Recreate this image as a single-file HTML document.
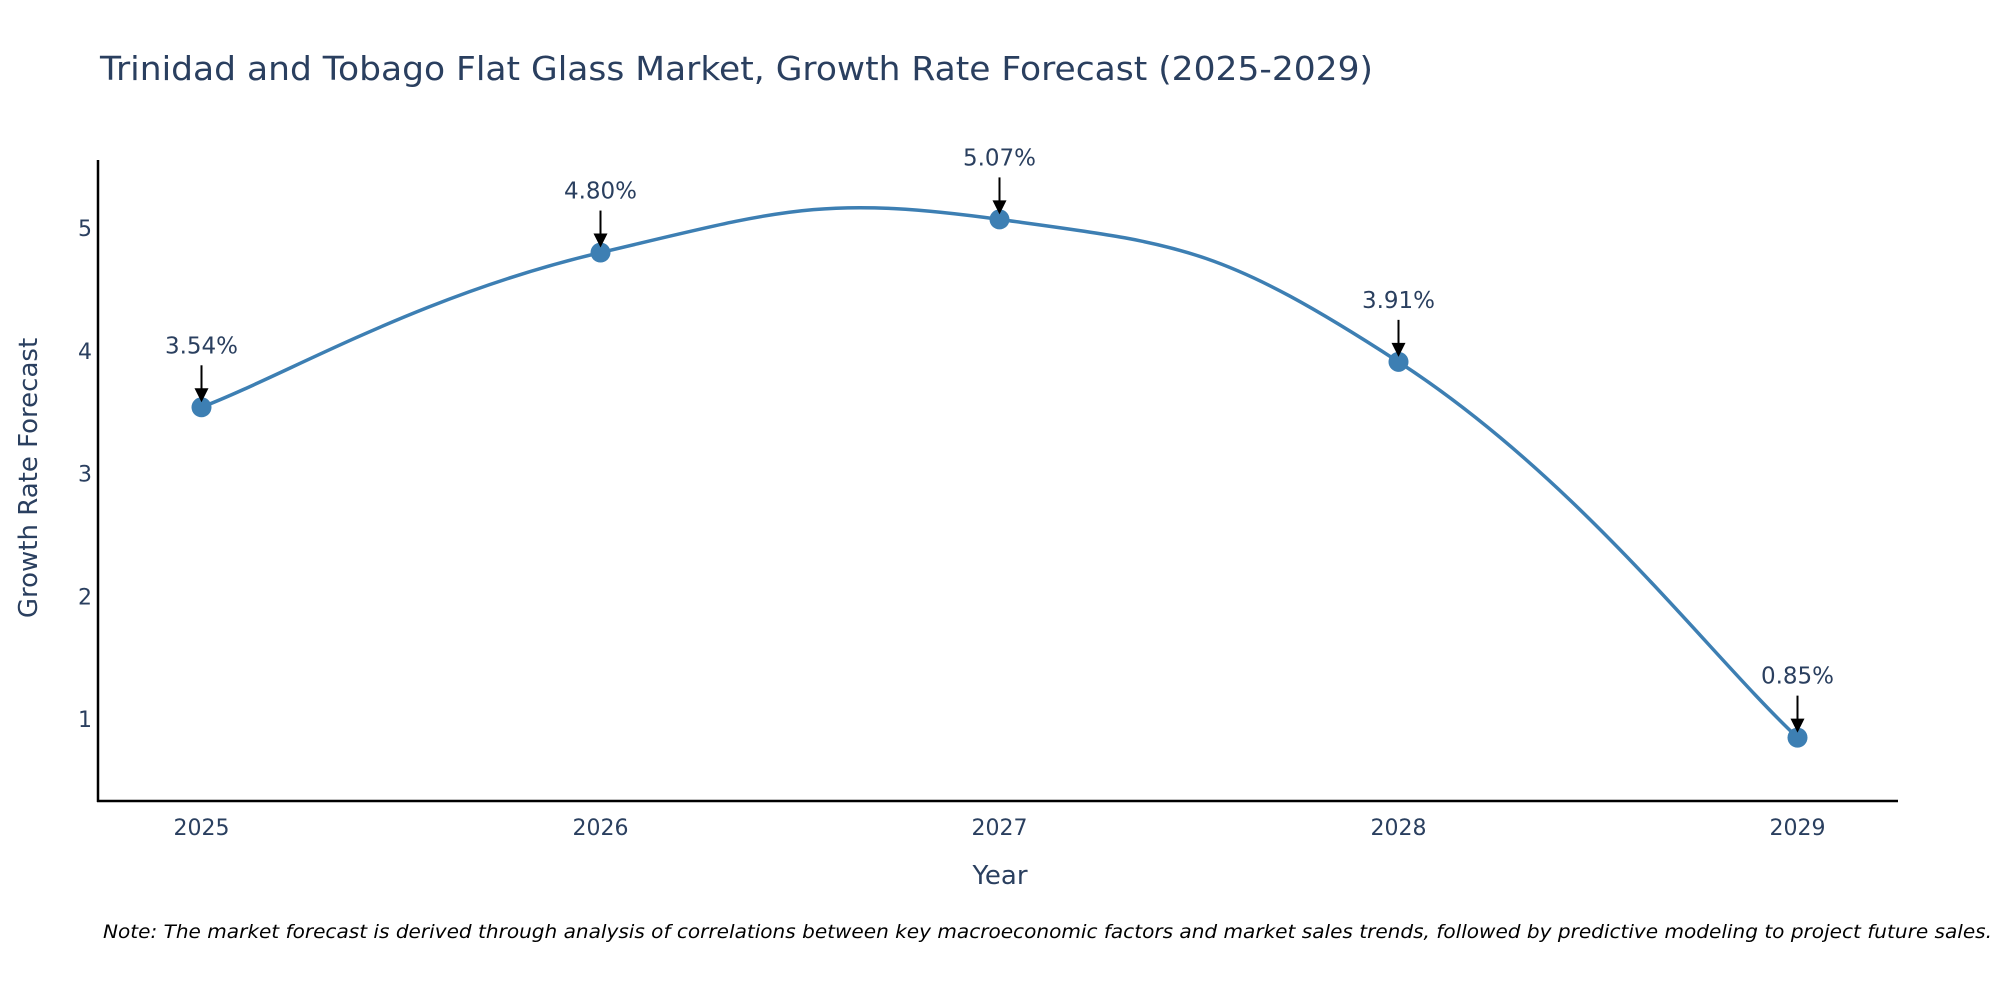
<!DOCTYPE html>
<html><head><meta charset="utf-8"><style>
html,body{margin:0;padding:0;background:#fff;width:2000px;height:1000px;overflow:hidden}
svg text{font-family:"DejaVu Sans","Liberation Sans",sans-serif;fill:#2a3f5f}
</style></head><body>
<svg id="chart" width="2000" height="1000" xmlns="http://www.w3.org/2000/svg">
<text x="100" y="80" font-size="33" textLength="1273" lengthAdjust="spacingAndGlyphs">Trinidad and Tobago Flat Glass Market, Growth Rate Forecast (2025-2029)</text>
<line x1="98" y1="160" x2="98" y2="802" stroke="#000" stroke-width="2.5"/>
<line x1="97" y1="801" x2="1898" y2="801" stroke="#000" stroke-width="2.5"/>
<g id="xt"></g><g id="yt"></g>
<path id="line" fill="none" stroke="#3d7fb3" stroke-width="3.5"/>
<g id="pts"></g>
<text x="1000" y="884" font-size="26" text-anchor="middle">Year</text>
<text transform="translate(37,478) rotate(-90)" font-size="26" text-anchor="middle">Growth Rate Forecast</text>
<text x="103" y="938" font-size="19" font-style="italic" textLength="1889" lengthAdjust="spacingAndGlyphs" style="fill:#000">Note: The market forecast is derived through analysis of correlations between key macroeconomic factors and market sales trends, followed by predictive modeling to project future sales.</text>
</svg>
<script>
const years=["2025","2026","2027","2028","2029"];
const values=[3.54,4.80,5.07,3.91,0.85];
const labels=["3.54%","4.80%","5.07%","3.91%","0.85%"];
const yTicks=[1,2,3,4,5];
const NS="http://www.w3.org/2000/svg";
const xs=i=>201.5+i*399;
const ys=v=>228+(5-v)*122.8;
function mk(t,a,p){const e=document.createElementNS(NS,t);for(const k in a)e.setAttribute(k,a[k]);p.appendChild(e);return e;}
const xt=document.getElementById('xt'),yt=document.getElementById('yt'),pts=document.getElementById('pts');
years.forEach((y,i)=>{const t=mk('text',{x:xs(i),y:835,'font-size':22,'text-anchor':'middle'},xt);t.textContent=y;

});
yTicks.forEach(v=>{const t=mk('text',{x:92,y:ys(v)+8,'font-size':22,'text-anchor':'end'},yt);t.textContent=v;

});
const P=values.map((v,i)=>[xs(i),ys(v)]);
let d=`M${P[0][0]},${P[0][1]}`;const s=0.45;
for(let i=0;i<P.length-1;i++){const p0=P[i-1]||P[i],p1=P[i],p2=P[i+1],p3=P[i+2]||P[i+1];
const c1=[p1[0]+(p2[0]-p0[0])*s/2,p1[1]+(p2[1]-p0[1])*s/2];
const c2=[p2[0]-(p3[0]-p1[0])*s/2,p2[1]-(p3[1]-p1[1])*s/2];
d+=` C${c1[0]},${c1[1]} ${c2[0]},${c2[1]} ${p2[0]},${p2[1]}`;}
document.getElementById('line').setAttribute('d',d);
values.forEach((v,i)=>{const x=xs(i),y=ys(v);
const c=mk('circle',{cx:x,cy:y,r:10,fill:'#3d7fb3'},pts);


const l=mk('line',{x1:x,y1:y-42,x2:x,y2:y-14,stroke:'#000','stroke-width':2},pts);


const a=mk('path',{d:`M${x-7},${y-19} L${x+7},${y-19} L${x},${y-5} Z`,fill:'#000'},pts);


const t=mk('text',{x:x,y:y-54,'font-size':23,'text-anchor':'middle'},pts);t.textContent=labels[i];

});
</script>
</body></html>
